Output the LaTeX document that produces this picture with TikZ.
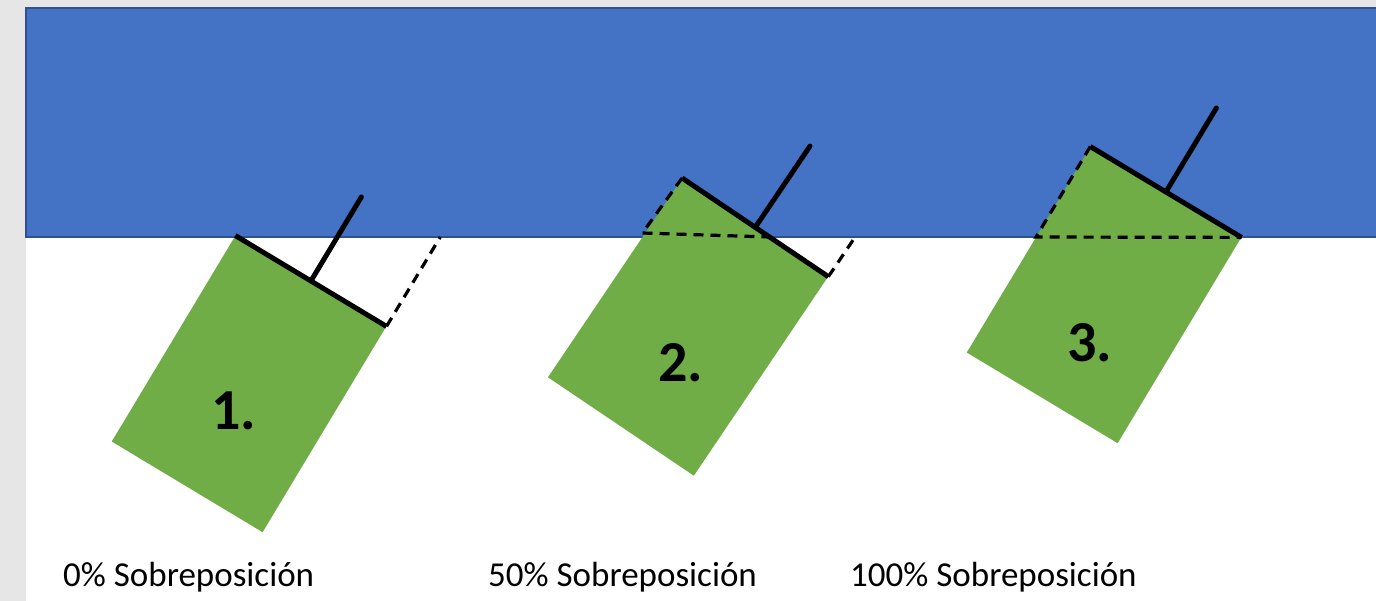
\documentclass[tikz,border=0pt]{standalone}
\usepackage{fontspec}
\setmainfont{Carlito}
\usetikzlibrary{calc}

\definecolor{bandblue}{HTML}{4472C4}
\definecolor{bandedge}{HTML}{2F528F}
\definecolor{plotgreen}{HTML}{70AD47}
\definecolor{backgrey}{HTML}{E6E6E6}

\begin{document}
\begin{tikzpicture}[x=1pt, y=-1pt,
  plot/.style={fill=plotgreen, inner sep=0pt, minimum width=176pt, minimum height=240pt},
  edge/.style={line width=5pt},
  mast/.style={line width=5pt, line cap=round},
  guide/.style={line width=3.2pt, dash pattern=on 10pt off 7pt},
  num/.style={font=\bfseries\fontsize{58}{64}\selectfont, inner sep=0pt, anchor=base},
  caption/.style={font=\fontsize{35}{40}\selectfont, inner sep=0pt, anchor=base west}]

\useasboundingbox (0,0) rectangle (1376,601);

% Background
\fill[backgrey] (0,0) rectangle (1376,601);
\fill[white] (26,8) rectangle (1376,601);

% Blue band
\draw[bandedge, line width=1.2pt, fill=bandblue] (26,8) rectangle (1382,237);
\coordinate (edgeL) at (26,237);
\coordinate (edgeR) at (1376,237);

% Plots
\node[plot, rotate=-31] (r1) at (249,384) {};
\node[plot, rotate=-34] (r2) at (688,327) {};
\node[plot, rotate=-31] (r3) at (1104,295) {};

% Where the plots meet the band
\coordinate (c1r) at (intersection of r1.north east--r1.south east and edgeL--edgeR);
\coordinate (c2r) at (intersection of r2.north east--r2.south east and edgeL--edgeR);
\coordinate (c2l) at (intersection of r2.north west--r2.south west and edgeL--edgeR);
\coordinate (c2t) at (intersection of r2.north west--r2.north east and edgeL--edgeR);
\coordinate (c3l) at (intersection of r3.north west--r3.south west and edgeL--edgeR);

% Dashed guides
\draw[guide] (r1.north east) -- (c1r);
\draw[guide] (r2.north east) -- (c2r);
\draw[guide] (r2.north west) -- ([yshift=4pt]c2l) -- (c2t);
\draw[guide] (r3.north west) -- (c3l) -- (r3.north east);

% Top edges
\draw[edge] (r1.north west) -- (r1.north east);
\draw[edge] (r2.north west) -- (r2.north east);
\draw[edge] (r3.north west) -- (r3.north east);

% Masts
\draw[mast] (r1.north) -- ($(r1.north)!98pt!90:(r1.north east)$);
\draw[mast] (r2.north) -- ($(r2.north)!98pt!90:(r2.north east)$);
\draw[mast] (r3.north) -- ($(r3.north)!98pt!90:(r3.north east)$);

% Numbers
\node[num] (n1) at (234,429) {1.};
\node[num] (n2) at (681,382) {2.};
\node[num] (n3) at (1090,362) {3.};

% Captions
\node[caption] (t1) at (63,586) {0\% Sobreposición};
\node[caption] (t2) at (488,586) {50\% Sobreposición};
\node[caption] (t3) at (850,586) {100\% Sobreposición};

\end{tikzpicture}
\end{document}
